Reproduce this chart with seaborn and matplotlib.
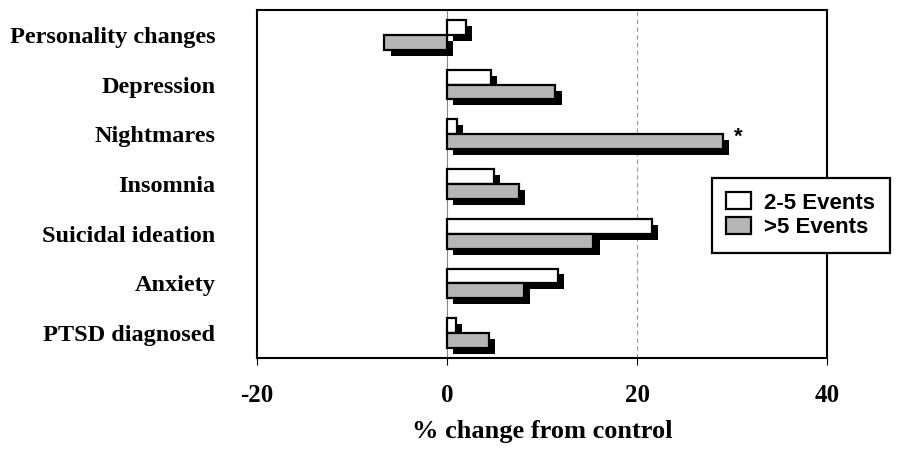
import pandas as pd
import matplotlib.pyplot as plt
import matplotlib.patheffects as pe
from matplotlib.patches import Patch
import seaborn as sns

# Values
symptoms = ["Personality changes", "Depression", "Nightmares", "Insomnia",
            "Suicidal ideation", "Anxiety", "PTSD diagnosed"]
events_2_5 = [2.0, 4.6, 1.0, 4.9, 21.6, 11.7, 0.9]
events_gt5 = [-6.6, 11.4, 29.0, 7.6, 15.4, 8.1, 4.4]
groups = ["2-5 Events", ">5 Events"]
x_ticks = [-20, 0, 20, 40]

df = pd.DataFrame({
    "symptom": symptoms * 2,
    "change": events_2_5 + events_gt5,
    "group": [groups[0]] * len(symptoms) + [groups[1]] * len(symptoms),
})

sns.set_style("white")
plt.rcParams["font.family"] = ["Liberation Serif", "DejaVu Serif"]
plt.rcParams["text.color"] = "black"
plt.rcParams["axes.labelcolor"] = "black"
plt.rcParams["xtick.color"] = "black"
plt.rcParams["ytick.color"] = "black"

fig = plt.figure(figsize=(8.99, 4.49), dpi=100)
ax = fig.add_axes([257 / 899, 1 - 358 / 449, 570 / 899, 348 / 449])

colors = {"2-5 Events": "white", ">5 Events": "#b6b6b6"}
sns.barplot(data=df, y="symptom", x="change", hue="group", order=symptoms,
            hue_order=groups, palette=colors, orient="h", width=0.6,
            edgecolor="black", linewidth=1.6, legend=False, ax=ax, zorder=3)

# drop shadow on each bar
for bar in ax.patches:
    bar.set_path_effects([pe.SimplePatchShadow(offset=(4.5, -4.3), shadow_rgbFace="black", alpha=1),
                          pe.Normal()])

ax.set_xlim(-20, 40)
ax.set_xticks(x_ticks)
ax.set_xticklabels([str(t) for t in x_ticks], fontsize=18, fontweight="bold")
ax.tick_params(axis="x", length=5, width=0.8, pad=14, bottom=True)
ax.tick_params(axis="y", length=0, pad=30)
for lab in ax.get_yticklabels():
    lab.set_fontsize(17.5)
    lab.set_fontweight("bold")

ax.axvline(0, color="#888888", lw=0.8, zorder=1)
ax.axvline(20, color="#999999", lw=0.8, ls=(0, (4, 3)), zorder=1)

for s in ax.spines.values():
    s.set_visible(True)
    s.set_color("black")
    s.set_linewidth(1.5)

ax.set_ylabel("")
ax.set_xlabel("% change from control", fontsize=19, fontweight="bold", labelpad=9)

# significance marker
ax.text(30.7, 2.05, "*", fontsize=16, fontweight="bold", ha="center", va="center",
        family=["Liberation Sans"])

handles = [Patch(facecolor=colors[g], edgecolor="black", linewidth=1.6, label=g) for g in groups]
leg = fig.legend(handles=handles, loc="upper left", bbox_to_anchor=(712 / 899, 1 - 178 / 449),
                 frameon=True, fancybox=False, edgecolor="black", framealpha=1,
                 prop={"family": "Liberation Sans", "weight": "bold", "size": 16},
                 handlelength=1.1, handleheight=0.8, handletextpad=0.6,
                 borderpad=0.65, labelspacing=0.15, borderaxespad=0)
leg.get_frame().set_linewidth(1.6)

fig.savefig("out.png", dpi=100)
